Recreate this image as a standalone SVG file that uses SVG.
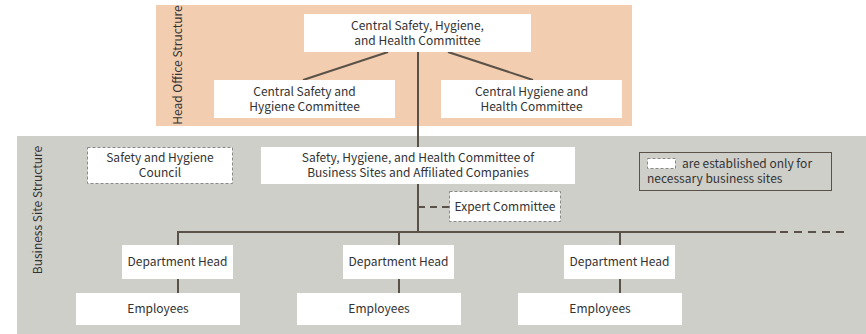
<svg xmlns="http://www.w3.org/2000/svg" width="866" height="334" viewBox="0 0 866 334">
<style>
text{font-family:"Noto Sans CJK JP","Source Sans Pro","Noto Sans",sans-serif;font-size:12px;fill:#333;text-anchor:middle}
.box{fill:#fff}
.dbox{fill:#fff;stroke:#888;stroke-width:1;stroke-dasharray:3 2}
.ln{stroke:#5a5248;stroke-width:2;fill:none}
.lbl{font-size:12px}
</style>
<rect x="156" y="5" width="476" height="121" fill="#f2cdb0"/>
<rect x="17" y="136" width="849" height="198" fill="#cfcfca"/>
<text class="lbl" transform="translate(182,65) rotate(-90)">Head Office Structure</text>
<text class="lbl" transform="translate(42,210) rotate(-90)">Business Site Structure</text>
<g id="connectors">
<line class="ln" x1="388" y1="52" x2="303" y2="80"/>
<line class="ln" x1="448" y1="52" x2="533" y2="80"/>
<line class="ln" x1="418" y1="52" x2="418" y2="232"/>
<line class="ln" x1="418" y1="207" x2="449" y2="207" stroke-dasharray="7 5"/>
<line class="ln" x1="177" y1="232" x2="776" y2="232"/>
<line class="ln" x1="780" y1="232" x2="846" y2="232" stroke-dasharray="8 6"/>
<line class="ln" x1="178" y1="231" x2="178" y2="293"/>
<line class="ln" x1="399" y1="232" x2="399" y2="293"/>
<line class="ln" x1="620" y1="232" x2="620" y2="293"/>
</g>
<g id="central">
<rect class="box" x="304" y="14" width="227" height="38"/>
<text x="417.5" y="30">Central Safety, Hygiene,<tspan x="417.5" dy="15">and Health Committee</tspan></text>
</g>
<g id="central-safety">
<rect class="box" x="214" y="80" width="181" height="38"/>
<text x="304.5" y="96">Central Safety and<tspan x="304.5" dy="15">Hygiene Committee</tspan></text>
</g>
<g id="central-hygiene">
<rect class="box" x="441" y="80" width="181" height="38"/>
<text x="531.5" y="96">Central Hygiene and<tspan x="531.5" dy="15">Health Committee</tspan></text>
</g>
<g id="council">
<rect class="dbox" x="87.5" y="147.5" width="145" height="36"/>
<text x="160" y="162">Safety and Hygiene<tspan x="160" dy="15">Council</tspan></text>
</g>
<g id="site-committee">
<rect class="box" x="261" y="147" width="314" height="37"/>
<text x="418" y="162">Safety, Hygiene, and Health Committee of<tspan x="418" dy="15">Business Sites and Affiliated Companies</tspan></text>
</g>
<g id="expert">
<rect class="dbox" x="449.5" y="191.5" width="111" height="30"/>
<text x="505" y="211">Expert Committee</text>
</g>
<g id="legend">
<rect x="639.5" y="152.5" width="192" height="38" fill="#cfcfca" stroke="#5a5248" stroke-width="1"/>
<rect class="dbox" x="647.5" y="158.5" width="28" height="10"/>
<text x="682" y="168" style="text-anchor:start">are established only for<tspan x="647" dy="15">necessary business sites</tspan></text>
</g>
<g id="dept1">
<rect class="box" x="122" y="245" width="111" height="34"/>
<text x="177.5" y="266">Department Head</text>
</g>
<g id="dept2">
<rect class="box" x="343" y="245" width="111" height="34"/>
<text x="398.5" y="266">Department Head</text>
</g>
<g id="dept3">
<rect class="box" x="564" y="245" width="111" height="34"/>
<text x="619.5" y="266">Department Head</text>
</g>
<g id="emp1">
<rect class="box" x="76" y="293" width="164" height="32"/>
<text x="158" y="313">Employees</text>
</g>
<g id="emp2">
<rect class="box" x="297" y="293" width="164" height="32"/>
<text x="379" y="313">Employees</text>
</g>
<g id="emp3">
<rect class="box" x="518" y="293" width="164" height="32"/>
<text x="600" y="313">Employees</text>
</g>
</svg>
